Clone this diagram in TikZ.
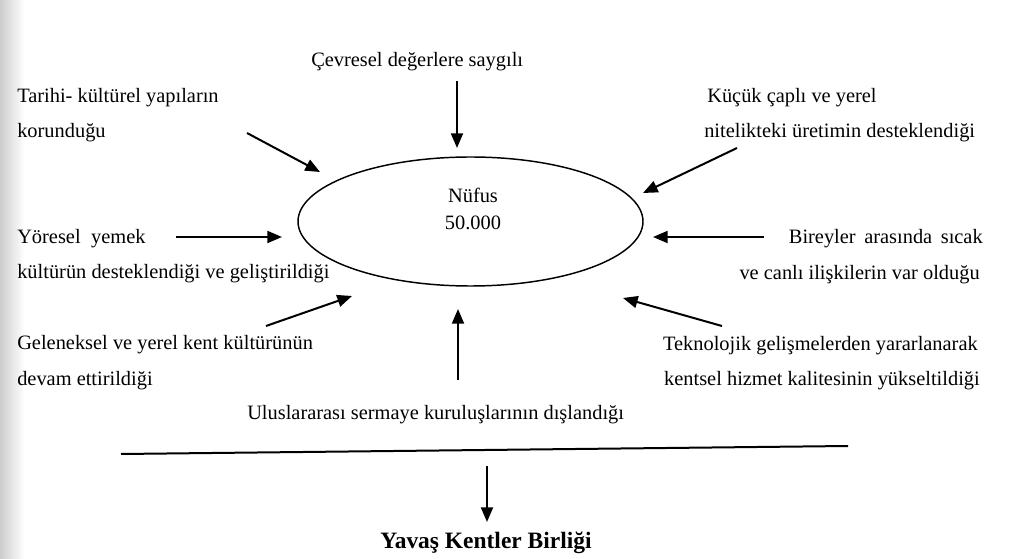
\documentclass[tikz,border=0pt]{standalone}
\usepackage{fontspec}
\setmainfont{Liberation Serif}
\usetikzlibrary{arrows.meta,shapes.geometric}
\begin{document}
\begin{tikzpicture}[x=0.75pt,y=-0.75pt,
  lbl/.style={inner sep=0pt, font=\fontsize{15.3pt}{18pt}\selectfont},
  lblw/.style={lbl, anchor=base west},
  lble/.style={lbl, anchor=base east},
  arr/.style={line width=1.5pt, -{Triangle[length=11pt,width=9pt]}},
]
\useasboundingbox (0,0) rectangle (1024,559);
\fill[white] (0,0) rectangle (1024,559);
\shade[left color=black!20, right color=white] (0,0) rectangle (24,559);

% central ellipse
\node[draw, ellipse, line width=1.1pt, minimum width=258.75pt, minimum height=96.75pt, inner sep=0pt] (pop) at (470.5,221.5) {};
\node[lbl, anchor=base] (n1) at (473,203) {Nüfus};
\node[lbl, anchor=base] (n2) at (473,230) {50.000};

% labels
\node[lblw] (t1a) at (311,67) {Çevresel değerlere saygılı};
\node[lblw] (t2a) at (17,103) {Tarihi- kültürel yapıların};
\node[lblw] (t2b) at (17,138) {korunduğu};
\node[lblw] (t3a) at (707,103) {Küçük çaplı ve yerel};
\node[lblw] (t3b) at (704,138) {nitelikteki üretimin desteklendiği};
\node[lblw] (t4a) at (17,244) {Yöresel\hspace{4pt} yemek};
\node[lblw] (t4b) at (17,279) {kültürün desteklendiği ve geliştirildiği};
\node[lble] (t5a) at (983,244) {Bireyler\hspace{2.6pt} arasında\hspace{2.6pt} sıcak};
\node[lble] (t5b) at (980,280) {ve canlı ilişkilerin var olduğu};
\node[lblw] (t6a) at (17,350) {Geleneksel ve yerel kent kültürünün};
\node[lblw] (t6b) at (17,385) {devam ettirildiği};
\node[lble] (t7a) at (978,351) {Teknolojik gelişmelerden yararlanarak};
\node[lble] (t7b) at (980,386) {kentsel hizmet kalitesinin yükseltildiği};
\node[lblw] (t8) at (247,419) {Uluslararası sermaye kuruluşlarının dışlandığı};
\node[inner sep=0pt, anchor=base, font=\bfseries\fontsize{17.6pt}{20pt}\selectfont] (t9) at (486,548) {Yavaş Kentler Birliği};

% arrow end points
\coordinate (a1s) at (457,81);  \coordinate (a1e) at (457,148);
\coordinate (a2s) at (247,133); \coordinate (a2e) at (320,172);
\coordinate (a3s) at (737,148); \coordinate (a3e) at (643,193);
\coordinate (a4s) at (176,237); \coordinate (a4e) at (282,237);
\coordinate (a5s) at (764,237); \coordinate (a5e) at (653,237);
\coordinate (a6s) at (266,326); \coordinate (a6e) at (352,296);
\coordinate (a7s) at (722,326); \coordinate (a7e) at (623,298);
\coordinate (a8s) at (458,380); \coordinate (a8e) at (458,309);
\coordinate (a9s) at (487,466); \coordinate (a9e) at (487,522);
\coordinate (l1) at (121,454);  \coordinate (l2) at (848,446);

\draw[arr] (a1s) -- (a1e);
\draw[arr] (a2s) -- (a2e);
\draw[arr] (a3s) -- (a3e);
\draw[arr] (a4s) -- (a4e);
\draw[arr] (a5s) -- (a5e);
\draw[arr] (a6s) -- (a6e);
\draw[arr] (a7s) -- (a7e);
\draw[arr] (a8s) -- (a8e);
\draw[arr] (a9s) -- (a9e);
\draw[line width=1.5pt] (l1) -- (l2);
\end{tikzpicture}
\end{document}
